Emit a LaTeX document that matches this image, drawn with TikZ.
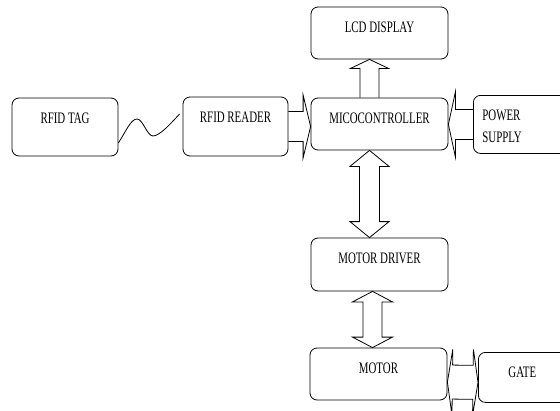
\documentclass[tikz,border=0pt]{standalone}
\usepackage{fontspec}
\newfontfamily\blkfont[FakeStretch=0.68]{Liberation Serif}
\usetikzlibrary{calc,positioning}

% hollow block arrows: start, end, shaft half width, head half width, head length
\newcommand{\fatarrow}[5]{%
  \coordinate (fa-b) at ($(#2)!#5!(#1)$);
  \draw[fat] ($(#1)!#3!90:(#2)$) -- ($(fa-b)!#3!90:(#2)$) -- ($(fa-b)!#4!90:(#2)$)
    -- (#2) -- ($(fa-b)!#4!-90:(#2)$) -- ($(fa-b)!#3!-90:(#2)$) -- ($(#1)!#3!-90:(#2)$);
}
\newcommand{\fatdarrow}[5]{%
  \coordinate (fa-a) at ($(#1)!#5!(#2)$);
  \coordinate (fa-b) at ($(#2)!#5!(#1)$);
  \draw[fat] (#1) -- ($(fa-a)!#4!90:(#2)$) -- ($(fa-a)!#3!90:(#2)$) -- ($(fa-b)!#3!90:(#2)$)
    -- ($(fa-b)!#4!90:(#2)$) -- (#2) -- ($(fa-b)!#4!-90:(#2)$) -- ($(fa-b)!#3!-90:(#2)$)
    -- ($(fa-a)!#3!-90:(#2)$) -- ($(fa-a)!#4!-90:(#2)$) -- cycle;
}

\begin{document}
\begin{tikzpicture}[x=1pt, y=-1pt,
    blk/.style={draw, line width=0.8pt, rounded corners=7pt, inner sep=0pt,
      text height=25.5pt, font=\blkfont\fontsize{16}{22}\selectfont},
    fat/.style={draw, line width=0.8pt}]
    \useasboundingbox (0,0) rectangle (560,410);
    \clip (0,0) rectangle (560,410);
    % blocks
    \node[blk, minimum width=106pt, text depth=32.5pt] (tag) at (65,127) {RFID TAG};
    \node[blk, minimum width=105pt, text depth=33.5pt] (reader) at (235.5,126.5) {RFID READER};
    \node[blk, minimum width=137pt, text depth=26.5pt] (micro) at (379.5,124) {MICOCONTROLLER};
    \node[blk, minimum width=137pt, text depth=26.5pt] (lcd) at (379.5,33) {LCD DISPLAY};
    \node[blk, anchor=north west, text width=180pt, inner xsep=9pt,
      align=left, text depth=32.5pt] (power) at (473,95) {POWER\\SUPPLY};
    \node[blk, minimum width=137pt, text depth=27.5pt] (driver) at (379.5,264.5) {MOTOR DRIVER};
    \node[blk, minimum width=137pt, text depth=26.5pt] (motor) at (378.5,374) {MOTOR};
    \node[blk, anchor=north west, text width=170pt, inner xsep=30pt,
      align=left, text depth=24.5pt] (gate) at (478,352) {GATE};
    % radio link
    \draw[fat] ([yshift=-16pt]tag.east) .. controls (126,131) and (131,119) .. (137,119)
      .. controls (143,119) and (147,136) .. (153,136)
      .. controls (160,136) and (172,122) .. ([xshift=-3pt,yshift=12.5pt]reader.west);
    % block arrows
    \fatarrow{reader.east}{micro.west |- reader.east}{15pt}{31.5pt}{7.5pt}
    \fatarrow{[xshift=-10pt]micro.north}{[xshift=-10pt]lcd.south}{9.5pt}{19pt}{9pt}
    \fatarrow{power.west}{micro.east |- power.west}{15pt}{32.5pt}{7pt}
    \fatdarrow{[xshift=-10pt]micro.south}{[xshift=-10pt]driver.north}{10pt}{19.5pt}{16pt}
    \fatdarrow{[xshift=-7pt]driver.south}{[xshift=-6pt]motor.north}{9.5pt}{20pt}{10.5pt}
    \fatdarrow{[yshift=-8pt]motor.east}{[yshift=-5pt]gate.west}{17pt}{33pt}{5pt}
\end{tikzpicture}
\end{document}
